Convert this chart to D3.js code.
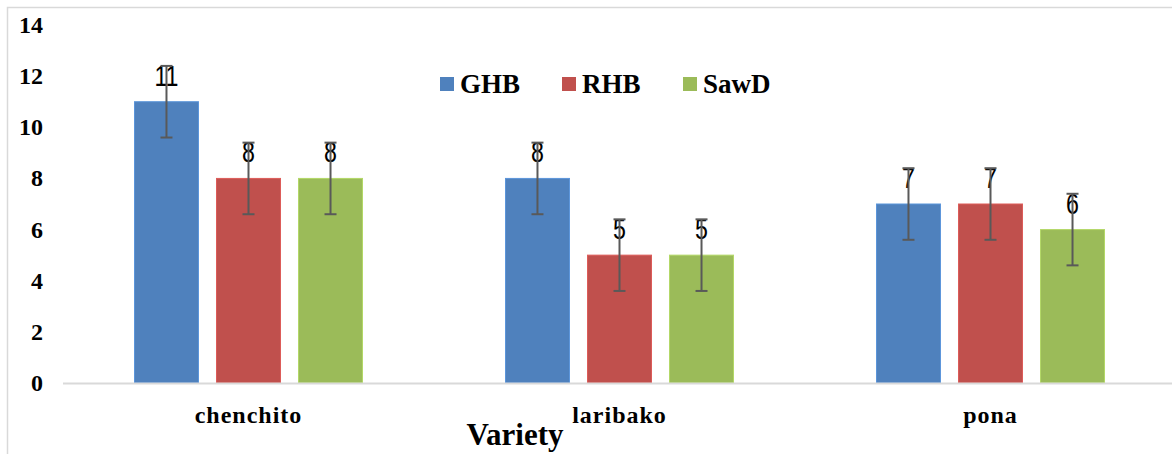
<!DOCTYPE html>
<html>
<head>
<meta charset="utf-8">
<script src="https://cdn.jsdelivr.net/npm/d3@7"></script>
<style>
  body { margin: 0; background: #fff; }
  svg { display: block; }
  .serif { font-family: 'Liberation Serif', 'Times New Roman', serif; font-weight: bold; }
  .sans { font-family: 'Liberation Sans', Arial, sans-serif; }
</style>
</head>
<body>
<div id="app"></div>
<script>
`use strict`;

const Varieties = [`chenchito`, `laribako`, `pona`];
const Series = [`GHB`, `RHB`, `SawD`];
const GHB = [11, 8, 7];
const RHB = [8, 5, 7];
const SawD = [8, 5, 6];
const ErrorBar = [1.4, 1.4, 1.4];
const YTicks = [0, 2, 4, 6, 8, 10, 12, 14];
const Colors = [`#4F81BD`, `#C0504D`, `#9BBB59`];

const W = 1172, H = 454;
const plot = {left: 63, right: 1176, top: 25, bottom: 383};

let SVG = d3.select(`#app`).append(`svg`).attr(`width`, W).attr(`height`, H);

// frame
SVG.append(`path`).attr(`d`, `M7.5,${H} L7.5,7.5 L${W},7.5`)
  .attr(`fill`, `none`).attr(`stroke`, `#d9d9d9`).attr(`stroke-width`, 1.5);

let y = d3.scaleLinear().domain([0, 14]).range([plot.bottom, plot.top]);

let x0 = d3.scaleBand().domain(Varieties).range([plot.left, plot.right]).paddingInner(0).paddingOuter(0);

let x1 = d3.scaleBand().domain(Series).range([0, 228]).paddingInner(0.22).paddingOuter(0);

let Rows = [];
Varieties.forEach((v, i) => {
  [GHB, RHB, SawD].forEach((arr, j) => {
    Rows.push({variety: v, series: Series[j], value: arr[i], err: ErrorBar[j], color: Colors[j]});
  });
});

const groupOffset = (x0.bandwidth() - 228) / 2;
const bx = Obj => x0(Obj.variety) + groupOffset + x1(Obj.series);

// y axis labels
SVG.append(`g`).selectAll(`text`).data(YTicks).enter().append(`text`)
  .attr(`class`, `serif`)
  .attr(`x`, 43).attr(`y`, S => y(S) + 8)
  .attr(`text-anchor`, `end`)
  .attr(`font-size`, `24px`)
  .text(S => S);

// bars
SVG.append(`g`).selectAll(`rect`).data(Rows).enter().append(`rect`)
  .attr(`x`, bx)
  .attr(`y`, S => y(S.value))
  .attr(`width`, x1.bandwidth())
  .attr(`height`, S => y(0) - y(S.value))
  .attr(`fill`, S => S.color)
  .attr(`stroke`, S => d3.color(S.color).brighter(0.4))
  .attr(`stroke-width`, 1);

// baseline
SVG.append(`line`).attr(`x1`, plot.left).attr(`x2`, W).attr(`y1`, y(0) + 0.5).attr(`y2`, y(0) + 0.5)
  .attr(`stroke`, `#d9d9d9`).attr(`stroke-width`, 2);

// data labels (tall, narrow digits)
SVG.append(`g`).selectAll(`text`).data(Rows).enter().append(`text`)
  .attr(`class`, `sans`)
  .attr(`transform`, S => `translate(${bx(S) + x1.bandwidth() / 2},${y(S.value) - 16}) scale(0.8,1)`)
  .attr(`text-anchor`, `middle`)
  .attr(`font-size`, `29px`).attr(`fill`, `#000`)
  .text(S => S.value);

// error bars
let EB = SVG.append(`g`).attr(`stroke`, `#595959`).attr(`stroke-width`, 2);
Rows.forEach(S => {
  let cx = bx(S) + x1.bandwidth() / 2;
  let top = y(S.value + S.err), bot = y(S.value - S.err);
  EB.append(`line`).attr(`x1`, cx).attr(`x2`, cx).attr(`y1`, top).attr(`y2`, bot);
  EB.append(`line`).attr(`x1`, cx - 6).attr(`x2`, cx + 6).attr(`y1`, top).attr(`y2`, top);
  EB.append(`line`).attr(`x1`, cx - 6).attr(`x2`, cx + 6).attr(`y1`, bot).attr(`y2`, bot);
});

// category labels
SVG.append(`g`).selectAll(`text`).data(Varieties).enter().append(`text`)
  .attr(`class`, `serif`)
  .attr(`x`, S => x0(S) + x0.bandwidth() / 2)
  .attr(`y`, 423)
  .attr(`text-anchor`, `middle`)
  .attr(`font-size`, `24px`)
  .attr(`letter-spacing`, `1px`)
  .text(S => S);

// axis title
SVG.append(`text`).attr(`class`, `serif`).attr(`x`, 515).attr(`y`, 445).attr(`text-anchor`, `middle`)
  .attr(`font-size`, `31px`)
  .text(`Variety`);

// legend
const LegendX = [440, 562, 683];
let Leg = SVG.append(`g`).selectAll(`g`).data(Series).enter().append(`g`)
  .attr(`transform`, (S, i) => `translate(${LegendX[i]},77)`);
Leg.append(`rect`).attr(`width`, 14).attr(`height`, 14).attr(`fill`, (S, i) => Colors[i]);
Leg.append(`text`).attr(`class`, `serif`).attr(`x`, 20).attr(`y`, 16)
  .attr(`font-size`, `27px`)
  .text(S => S);
</script>
</body>
</html>
